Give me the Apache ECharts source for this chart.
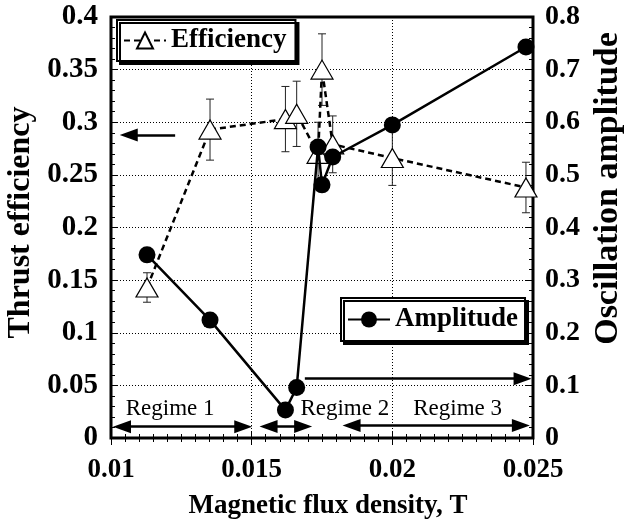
<!DOCTYPE html>
<html>
<head>
<meta charset="utf-8">
<script src="https://cdn.jsdelivr.net/npm/echarts@6/dist/echarts.min.js"></script>
<style>
  html, body { margin: 0; padding: 0; background: #fff; }
  #chart { width: 632px; height: 527px; }
</style>
</head>
<body>
<div id="chart"></div>
<script>
// Magnetic flux density (T) for each measurement
const bField = [0.01128, 0.01352, 0.0162, 0.0166, 0.01736, 0.0175, 0.01788, 0.0200, 0.02475];
// Thrust efficiency (left axis) and its error half-width
const efficiency = [0.143, 0.293, 0.303, 0.308, 0.270, 0.350, 0.279, 0.266, 0.238];
const efficiencyErr = [0.014, 0.029, 0.031, 0.031, 0.030, 0.034, 0.027, 0.026, 0.024];
// Oscillation amplitude (right axis)
const amplitude = [0.348, 0.224, 0.053, 0.096, 0.553, 0.481, 0.534, 0.595, 0.743];

// Tick labels
const xTicks = ['0.01', '0.015', '0.02', '0.025'];
const leftTicks = ['0', '0.05', '0.1', '0.15', '0.2', '0.25', '0.3', '0.35', '0.4'];
const rightTicks = ['0', '0.1', '0.2', '0.3', '0.4', '0.5', '0.6', '0.7', '0.8'];

// Regime spans along the field axis (arrow ends) and label anchors
const regimeNames = ['Regime 1', 'Regime 2', 'Regime 3'];
const regimeSpans = [[0.01039, 0.01470], [0.01560, 0.01683], [0.01855, 0.02457]];
const regimeArrowY = [0.0107, 0.011, 0.0119];
const regimeLabelX = [0.0121, 0.01831, 0.02232];
const regimeLabelY = 0.028;

const FONT = "'Liberation Serif', 'Times New Roman', serif";

function tickFormatter(labels, start, step) {
  return function (v) {
    const i = Math.round((v - start) / step);
    return labels[i] !== undefined ? labels[i] : '';
  };
}

const effPoints = bField.map((b, i) => [b, efficiency[i]]);
const ampPoints = bField.map((b, i) => [b, amplitude[i]]);
const errPoints = bField.map((b, i) => [b, efficiency[i] - efficiencyErr[i], efficiency[i] + efficiencyErr[i]]);

const arrowStyle = { color: '#000', width: 2.5, type: 'solid' };

const legendBox = {
  orient: 'horizontal',
  itemWidth: 42, itemHeight: 20,
  backgroundColor: '#fff',
  borderColor: '#000', borderWidth: 2, borderRadius: 0,
  shadowColor: '#000', shadowBlur: 0, shadowOffsetX: 3, shadowOffsetY: 3,
  textStyle: { fontFamily: FONT, fontWeight: 'bold', fontSize: 27, color: '#000' }
};

const chart = echarts.init(document.getElementById('chart'), null, { renderer: 'canvas' });

chart.setOption({
  animation: false,
  backgroundColor: '#fff',
  textStyle: { fontFamily: FONT },
  grid: {
    left: 111, right: 99, top: 17, bottom: 89,
    containLabel: false,
    outerBoundsMode: 'none',
    show: true, borderColor: '#000', borderWidth: 3
  },
  legend: [
    Object.assign({}, legendBox, {
      data: ['Efficiency'],
      left: 117, top: 20,
      padding: [7, 9, 7, 6]
    }),
    Object.assign({}, legendBox, {
      data: ['Amplitude'],
      left: 341, top: 298,
      padding: [8, 7, 8, 6]
    })
  ],
  xAxis: [
    {
      type: 'value', position: 'bottom',
      min: 0.01, max: 0.025, interval: 0.005,
      name: 'Magnetic flux density, T',
      nameLocation: 'middle', nameGap: 55,
      nameTextStyle: { fontFamily: FONT, fontWeight: 'bold', fontSize: 27, color: '#000', padding: [0, 0, 0, 12] },
      axisLine: { show: false },
      axisTick: { show: true, inside: true, length: 7, lineStyle: { color: '#000', width: 1 } },
      minorTick: { show: true, splitNumber: 10, length: 4, lineStyle: { color: '#000', width: 1 } },
      axisLabel: {
        margin: 19, color: '#000', fontFamily: FONT, fontWeight: 'bold', fontSize: 27,
        formatter: tickFormatter(xTicks, 0.01, 0.005)
      },
      splitLine: { show: true, lineStyle: { color: '#000', width: 1, type: [1, 2] } }
    },
    {
      type: 'value', position: 'top',
      min: 0.01, max: 0.025, interval: 0.005,
      axisLine: { show: false },
      axisTick: { show: true, inside: true, length: 7, lineStyle: { color: '#000', width: 1 } },
      minorTick: { show: true, splitNumber: 10, length: 4, lineStyle: { color: '#000', width: 1 } },
      axisLabel: { show: false },
      splitLine: { show: false }
    }
  ],
  yAxis: [
    {
      type: 'value', position: 'left',
      min: 0, max: 0.4, interval: 0.05,
      name: 'Thrust efficiency',
      nameLocation: 'middle', nameGap: 66, nameRotate: 90,
      nameTextStyle: { fontFamily: FONT, fontWeight: 'bold', fontSize: 32, color: '#000', padding: [0, 0, 0, 10] },
      axisLine: { show: false },
      axisTick: { show: true, inside: true, length: 7, lineStyle: { color: '#000', width: 1 } },
      minorTick: { show: true, splitNumber: 5, length: 4, lineStyle: { color: '#000', width: 1 } },
      axisLabel: {
        margin: 13, color: '#000', fontFamily: FONT, fontWeight: 'bold', fontSize: 29,
        formatter: tickFormatter(leftTicks, 0, 0.05)
      },
      splitLine: { show: true, lineStyle: { color: '#000', width: 1, type: [1, 2] } }
    },
    {
      type: 'value', position: 'right',
      min: 0, max: 0.8, interval: 0.1,
      name: 'Oscillation amplitude',
      nameLocation: 'middle', nameGap: 45, nameRotate: 90,
      nameTextStyle: { fontFamily: FONT, fontWeight: 'bold', fontSize: 34, color: '#000', padding: [0, 0, 0, 78] },
      axisLine: { show: false },
      axisTick: { show: true, inside: true, length: 7, lineStyle: { color: '#000', width: 1 } },
      minorTick: { show: true, splitNumber: 5, length: 4, lineStyle: { color: '#000', width: 1 } },
      axisLabel: {
        margin: 12, color: '#000', fontFamily: FONT, fontWeight: 'bold', fontSize: 28,
        formatter: tickFormatter(rightTicks, 0, 0.1)
      },
      splitLine: { show: false }
    }
  ],
  series: [
    {
      name: 'errorbars',
      type: 'custom',
      xAxisIndex: 0, yAxisIndex: 0,
      z: 1,
      data: errPoints,
      renderItem: function (params, api) {
        const x = api.value(0);
        const lo = api.coord([x, api.value(1)]);
        const hi = api.coord([x, api.value(2)]);
        const cap = 4;
        const style = { stroke: '#222', lineWidth: 1 };
        return {
          type: 'group',
          children: [
            { type: 'line', shape: { x1: lo[0], y1: lo[1], x2: hi[0], y2: hi[1] }, style: style },
            { type: 'line', shape: { x1: lo[0] - cap, y1: lo[1], x2: lo[0] + cap, y2: lo[1] }, style: style },
            { type: 'line', shape: { x1: hi[0] - cap, y1: hi[1], x2: hi[0] + cap, y2: hi[1] }, style: style }
          ]
        };
      },
      silent: true
    },
    {
      name: 'Efficiency',
      type: 'line',
      xAxisIndex: 0, yAxisIndex: 0,
      z: 2,
      data: effPoints,
      symbol: 'triangle',
      symbolSize: [22, 19],
      showAllSymbol: true,
      lineStyle: { color: '#000', width: 2.5, type: [6, 4] },
      itemStyle: { color: '#fff', borderColor: '#000', borderWidth: 1.2 },
      markLine: {
        silent: true,
        symbol: ['triangle', 'triangle'],
        symbolSize: [13, 18],
        label: { show: false },
        lineStyle: arrowStyle,
        data: regimeSpans.map((s, i) => [
          { coord: [s[0], regimeArrowY[i]] },
          { coord: [s[1], regimeArrowY[i]] }
        ]).concat([[
          { coord: [0.01228, 0.288], symbol: 'none' },
          { coord: [0.01063, 0.288] }
        ]])
      },
      markPoint: {
        silent: true,
        symbol: 'rect', symbolSize: 1,
        itemStyle: { color: 'rgba(0,0,0,0)' },
        label: {
          show: true, position: 'inside', color: '#000',
          fontFamily: FONT, fontSize: 23, fontWeight: 'normal',
          formatter: p => p.name
        },
        data: regimeNames.map((n, i) => ({ name: n, coord: [regimeLabelX[i], regimeLabelY] }))
      }
    },
    {
      name: 'Amplitude',
      type: 'line',
      xAxisIndex: 0, yAxisIndex: 1,
      z: 3,
      data: ampPoints,
      symbol: 'circle',
      symbolSize: 17,
      showAllSymbol: true,
      lineStyle: { color: '#000', width: 2.5, type: 'solid' },
      itemStyle: { color: '#000', borderColor: '#000', borderWidth: 0 },
      markLine: {
        silent: true,
        symbol: ['none', 'triangle'],
        symbolSize: [13, 18],
        label: { show: false },
        lineStyle: arrowStyle,
        data: [[
          { coord: [0.01689, 0.1128] },
          { coord: [0.02463, 0.1128] }
        ]]
      }
    }
  ]
});
</script>
</body>
</html>
